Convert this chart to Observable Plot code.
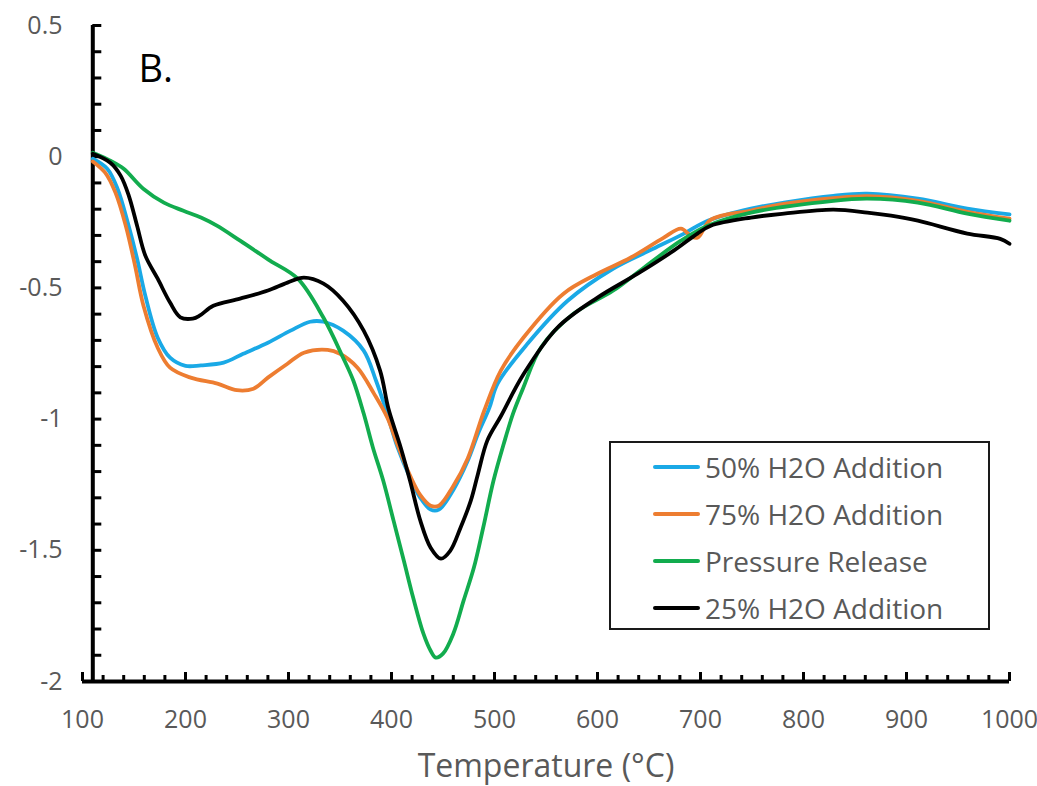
<!DOCTYPE html>
<html>
<head>
<meta charset="utf-8">
<script src="https://cdn.jsdelivr.net/npm/d3@7"></script>
<script src="https://cdn.jsdelivr.net/npm/@observablehq/plot@0.6"></script>
<style>
  body { margin: 0; background: #fff; font-family: "Open Sans", sans-serif; }
  #wrap { position: relative; width: 1037px; height: 786px; }
  #legend { position: absolute; left: 609px; top: 441px; width: 381px; height: 189px; box-sizing: border-box;
            border: 2px solid #1a1a1a; background: #fff; font-family: "Open Sans", sans-serif; }
  .row { display: flex; align-items: center; height: 47px; }
  .swatch { display: inline-block; width: 47px; height: 4px; margin-left: 42px; margin-right: 5px; border-radius: 2px; }
  .lab { font-size: 28px; color: #595959; white-space: nowrap; }
</style>
</head>
<body>
<div id="wrap"></div>
<script>
// ---- data ----
const seriesNames = ["50% H2O Addition", "75% H2O Addition", "Pressure Release", "25% H2O Addition"];
const seriesColors = ["#1AA9E6", "#ED7D31", "#12AC4E", "#000000"];
const panelLabel = "B.";
const xTitle = "Temperature (°C)";

const temp50 = [110,124,134,144,153,161,173,185,200,215,237,256,280,302,321,334,353,373,385,394,406,418,428,438,446,460,474,484,495,503,532,571,615,654,684,707,749,781,829,862,911,959,1000];
const val50  = [-0.008,-0.046,-0.122,-0.252,-0.389,-0.53,-0.69,-0.766,-0.797,-0.795,-0.785,-0.751,-0.709,-0.663,-0.629,-0.629,-0.663,-0.739,-0.854,-0.957,-1.109,-1.223,-1.30,-1.345,-1.345,-1.27,-1.159,-1.056,-0.957,-0.865,-0.713,-0.549,-0.427,-0.351,-0.293,-0.244,-0.198,-0.175,-0.149,-0.141,-0.16,-0.198,-0.22];

const temp75 = [110,122,132,142,151,159,173,185,205,231,250,266,280,299,315,338,350,367,383,396,406,418,428,438,446,460,474,490,506,528,567,600,632,664,681,690,697,710,749,781,829,862,911,959,1000];
const val75  = [-0.018,-0.061,-0.137,-0.263,-0.415,-0.565,-0.728,-0.804,-0.842,-0.865,-0.89,-0.884,-0.842,-0.789,-0.747,-0.736,-0.751,-0.804,-0.903,-0.995,-1.10,-1.215,-1.29,-1.33,-1.33,-1.255,-1.15,-0.968,-0.816,-0.69,-0.522,-0.446,-0.385,-0.309,-0.274,-0.30,-0.309,-0.24,-0.205,-0.18,-0.158,-0.15,-0.168,-0.21,-0.236];

const tempPR = [110,127,140,159,179,198,215,230,253,282,309,334,353,363,373,382,392,402,412,421,431,438,443,450,460,470,480,489,499,509,518,528,545,577,615,645,681,707,749,829,862,911,959,1000];
const valPR  = [0.015,-0.015,-0.046,-0.122,-0.175,-0.206,-0.232,-0.262,-0.32,-0.396,-0.465,-0.614,-0.766,-0.854,-0.979,-1.109,-1.235,-1.387,-1.54,-1.68,-1.818,-1.883,-1.909,-1.894,-1.818,-1.692,-1.566,-1.414,-1.235,-1.094,-0.979,-0.88,-0.728,-0.598,-0.511,-0.423,-0.32,-0.263,-0.213,-0.168,-0.16,-0.175,-0.217,-0.244];

const temp25 = [110,127,137,145,153,161,173,185,195,207,214,227,253,280,299,315,334,353,373,389,397,409,418,428,438,448,457,467,477,484,493,506,528,561,600,639,674,697,710,749,781,829,862,885,911,959,991,1000];
const val25  = [0.011,-0.023,-0.072,-0.149,-0.263,-0.377,-0.465,-0.556,-0.612,-0.617,-0.605,-0.568,-0.541,-0.51,-0.48,-0.461,-0.484,-0.549,-0.663,-0.816,-0.96,-1.109,-1.235,-1.387,-1.49,-1.532,-1.502,-1.414,-1.311,-1.208,-1.082,-0.99,-0.83,-0.652,-0.537,-0.446,-0.358,-0.293,-0.263,-0.232,-0.217,-0.202,-0.213,-0.225,-0.244,-0.293,-0.313,-0.332];

const xTickValues = [100,200,300,400,500,600,700,800,900,1000];
const xMinorTicks = d3.range(100, 1001, 20);
const yTickValues = [-2,-1.5,-1,-0.5,0,0.5];
const yTickLabels = ["-2","-1.5","-1","-0.5","0","0.5"];
const yMinorTicks = d3.range(-20, 6, 1).map(d => d / 10);
const yAxisAt = 110;
const xDomain = [100, 1000];
const yDomain = [-2, 0.5];

// ---- build table ----
const temps = [temp50, temp75, tempPR, temp25];
const vals = [val50, val75, valPR, val25];
const rows = seriesNames.flatMap((name, i) => temps[i].map((t, j) => ({series: name, t, v: vals[i][j]})));

const chart = Plot.plot({
  width: 1037,
  height: 786,
  marginLeft: 82,
  marginRight: 28,
  marginTop: 25,
  marginBottom: 105,
  style: {fontFamily: "'Open Sans', sans-serif", background: "#fff"},
  x: {domain: xDomain},
  y: {domain: yDomain},
  color: {domain: seriesNames, range: seriesColors},
  marks: [
    Plot.axisX({ticks: xTickValues, tickSize: 0, tickPadding: 29, fontSize: 25, color: "#595959", label: null, tickFormat: d => String(d)}),
    Plot.axisY({ticks: yTickValues, tickSize: 0, tickPadding: 20, fontSize: 25, color: "#595959", label: null, tickFormat: d => yTickLabels[yTickValues.indexOf(d)]}),
    // minor / major ticks on x axis (pointing up)
    Plot.ruleX(xMinorTicks, {x: d => d, y1: yDomain[0], y2: yDomain[0], insetBottom: 6, stroke: "#000", strokeWidth: 3}),
    Plot.ruleX(xTickValues, {x: d => d, y1: yDomain[0], y2: yDomain[0], insetBottom: 9, stroke: "#000", strokeWidth: 3}),
    // ticks on y axis (pointing right)
    Plot.ruleY(yMinorTicks, {y: d => d, x1: yAxisAt, x2: yAxisAt, insetRight: -9, stroke: "#000", strokeWidth: 3}),
    // axis lines
    Plot.ruleY([yDomain[0]], {x1: xDomain[0], x2: xDomain[1], stroke: "#000", strokeWidth: 4}),
    Plot.ruleX([yAxisAt], {y1: yDomain[0], y2: yDomain[1], stroke: "#000", strokeWidth: 4}),
    // data
    Plot.line(rows, {x: "t", y: "v", z: "series", stroke: "series", strokeWidth: 3.8, curve: "catmull-rom"}),
    // panel label and axis title
    Plot.text([panelLabel], {frameAnchor: "top-left", dx: 56, dy: 44, text: d => d, fontSize: 38, fill: "#000", textAnchor: "start", lineAnchor: "middle"}),
    Plot.text([xTitle], {frameAnchor: "bottom", dy: 85, text: d => d, fontSize: 32, fill: "#595959", textAnchor: "middle", lineAnchor: "middle"})
  ]
});

const wrap = document.getElementById("wrap");
wrap.appendChild(chart);

const legend = document.createElement("div");
legend.id = "legend";
seriesNames.forEach((name, i) => {
  const row = document.createElement("div");
  row.className = "row";
  const sw = document.createElement("span");
  sw.className = "swatch";
  sw.style.background = seriesColors[i];
  const lab = document.createElement("span");
  lab.className = "lab";
  lab.textContent = name;
  row.appendChild(sw);
  row.appendChild(lab);
  legend.appendChild(row);
});
wrap.appendChild(legend);
</script>
</body>
</html>
